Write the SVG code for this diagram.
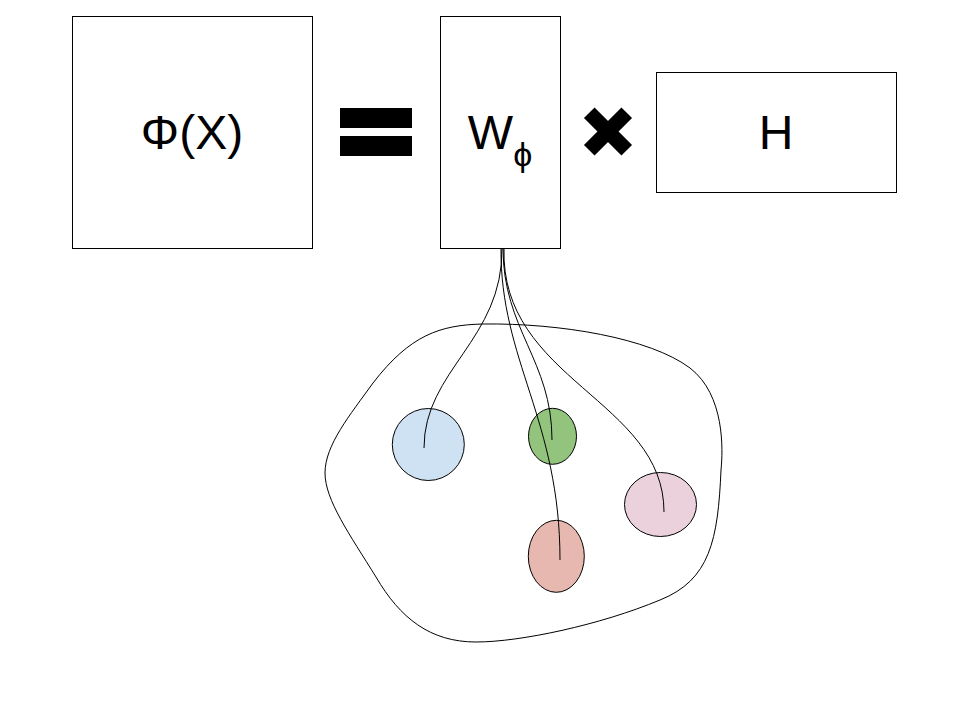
<svg xmlns="http://www.w3.org/2000/svg" width="960" height="720" viewBox="0 0 960 720">
<style>
.box{fill:#ffffff;stroke:#000000;stroke-width:1}
.lbl{font-family:"Liberation Sans",Arial,sans-serif;font-size:48px;fill:#000000;text-anchor:middle}
.edge{fill:none;stroke:#000000;stroke-width:1}
.blob{fill:none;stroke:#000000;stroke-width:1}
.node{stroke:#000000;stroke-width:1}
</style>
<rect width="960" height="720" fill="#ffffff"/>
<g id="phi">
<rect class="box" x="72.5" y="16.5" width="240" height="232"/>
<text class="lbl" x="192" y="149">Φ(X)</text>
</g>
<g id="equals">
<rect x="340" y="108" width="72" height="20" fill="#000000"/>
<rect x="340" y="136" width="72" height="20" fill="#000000"/>
</g>
<g id="wphi">
<rect class="box" x="440.5" y="16.5" width="120" height="232"/>
<text class="lbl" x="500" y="149">W<tspan font-size="34" dy="17">ϕ</tspan></text>
</g>
<g id="times">
<g transform="translate(608,131.5) rotate(45)" fill="#000000">
<rect x="-26.5" y="-7.5" width="53" height="15"/>
<rect x="-7.5" y="-26.5" width="15" height="53"/>
</g>
</g>
<g id="h">
<rect class="box" x="656.5" y="72.5" width="240" height="120"/>
<text class="lbl" x="776" y="149">H</text>
</g>
<g id="space">
<path class="blob" d="M 483,324 C 560,323 650,338 690,368 C 725,395 723,450 721,470 C 718,540 710,580 660,600 C 600,625 520,642 476,642 C 430,642 400,618 376,577 C 350,535 325,500 325,473 C 325,445 350,415 373,383 C 410,335 440,325 483,324 Z"/>
</g>
<g id="blue"><ellipse class="node" cx="428.3" cy="444.5" rx="36" ry="36" fill="#cfe2f3"/></g>
<g id="green"><ellipse class="node" cx="552.5" cy="436.3" rx="24" ry="28" fill="#93c47d"/></g>
<g id="pink"><ellipse class="node" cx="660.5" cy="504.5" rx="36" ry="32" fill="#ead1dc"/></g>
<g id="red"><ellipse class="node" cx="556.3" cy="556.3" rx="28" ry="36" fill="#e6b8af"/></g>
<g id="connectors">
<path class="edge" d="M 502,248 C 503,340 424,370 424,448"/>
<path class="edge" d="M 503,248 C 503,330 552,360 552,440"/>
<path class="edge" d="M 501,248 C 500,360 560,420 560,560"/>
<path class="edge" d="M 504,248 C 500,380 664,400 664,512"/>
</g>
</svg>
